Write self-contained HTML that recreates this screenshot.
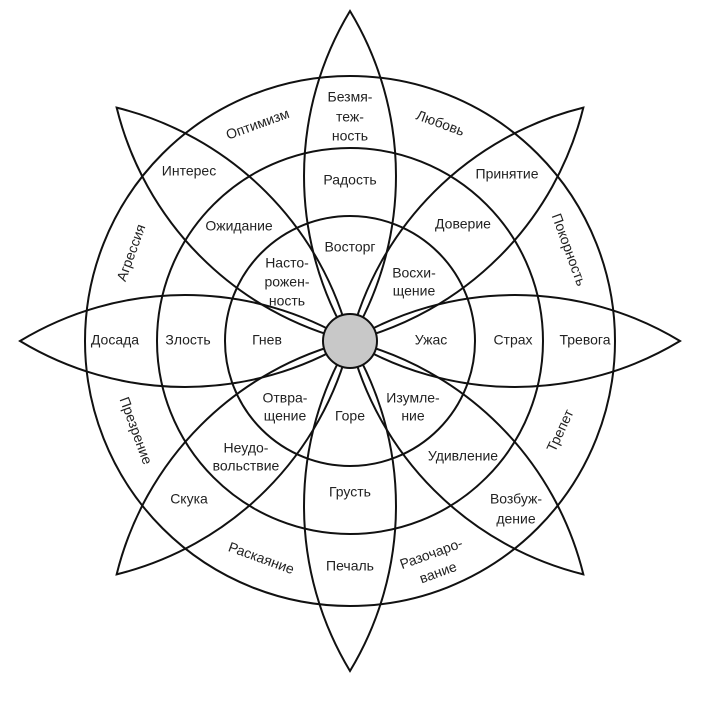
<!DOCTYPE html>
<html><head><meta charset="utf-8"><style>
html,body{margin:0;padding:0;background:#fff}
svg{display:block}
text{font-family:"Liberation Sans",sans-serif;font-size:14px;fill:#222;text-anchor:middle;dominant-baseline:middle}
</style></head><body>
<svg width="704" height="709" viewBox="0 0 704 709" xmlns="http://www.w3.org/2000/svg">
<g fill="none" stroke="#111" stroke-width="2">
<circle cx="350" cy="341" r="125"/>
<circle cx="350" cy="341" r="193"/>
<circle cx="350" cy="341" r="265"/>
<g transform="translate(350,341)">
<path id="p" d="M0,0 A319,319 0 0 1 0,-330 A319,319 0 0 1 0,0Z"/>
<use href="#p" transform="rotate(45)"/>
<use href="#p" transform="rotate(90)"/>
<use href="#p" transform="rotate(135)"/>
<use href="#p" transform="rotate(180)"/>
<use href="#p" transform="rotate(225)"/>
<use href="#p" transform="rotate(270)"/>
<use href="#p" transform="rotate(315)"/>
</g>
</g>
<circle cx="350" cy="341" r="27" fill="#c8c8c8" stroke="#111" stroke-width="2"/>
<text x="350" y="98">Безмя-</text><text x="350" y="118">теж-</text><text x="350" y="137">ность</text>
<text x="350" y="181">Радость</text>
<text x="350" y="248">Восторг</text>
<text x="258" y="125" transform="rotate(-20 258 125)">Оптимизм</text>
<text x="440" y="124" transform="rotate(20 440 124)">Любовь</text>
<text x="189" y="172">Интерес</text>
<text x="507" y="175">Принятие</text>
<text x="239" y="227">Ожидание</text>
<text x="463" y="225">Доверие</text>
<text x="132" y="253" transform="rotate(-70 132 253)">Агрессия</text>
<text x="568" y="250" transform="rotate(70 568 250)">Покорность</text>
<text x="287" y="264">Насто-</text><text x="287" y="283">рожен-</text><text x="287" y="302">ность</text>
<text x="414" y="274">Восхи-</text><text x="414" y="292">щение</text>
<text x="115" y="341">Досада</text>
<text x="188" y="341">Злость</text>
<text x="267" y="341">Гнев</text>
<text x="431" y="341">Ужас</text>
<text x="513" y="341">Страх</text>
<text x="585" y="341">Тревога</text>
<text x="285" y="399">Отвра-</text><text x="285" y="417">щение</text>
<text x="350" y="417">Горе</text>
<text x="413" y="399">Изумле-</text><text x="413" y="417">ние</text>
<text x="135" y="431" transform="rotate(70 135 431)">Презрение</text>
<text x="561" y="431" transform="rotate(-65 561 431)">Трепет</text>
<text x="246" y="449">Неудо-</text><text x="246" y="467">вольствие</text>
<text x="463" y="457">Удивление</text>
<text x="350" y="493">Грусть</text>
<text x="189" y="500">Скука</text>
<text x="516" y="500">Возбуж-</text><text x="516" y="520">дение</text>
<text x="261" y="559" transform="rotate(20 261 559)">Раскаяние</text>
<text x="350" y="567">Печаль</text>
<g transform="rotate(-20 435 564)"><text x="435" y="554">Разочаро-</text><text x="435" y="574">вание</text></g>
</svg>
</body></html>
